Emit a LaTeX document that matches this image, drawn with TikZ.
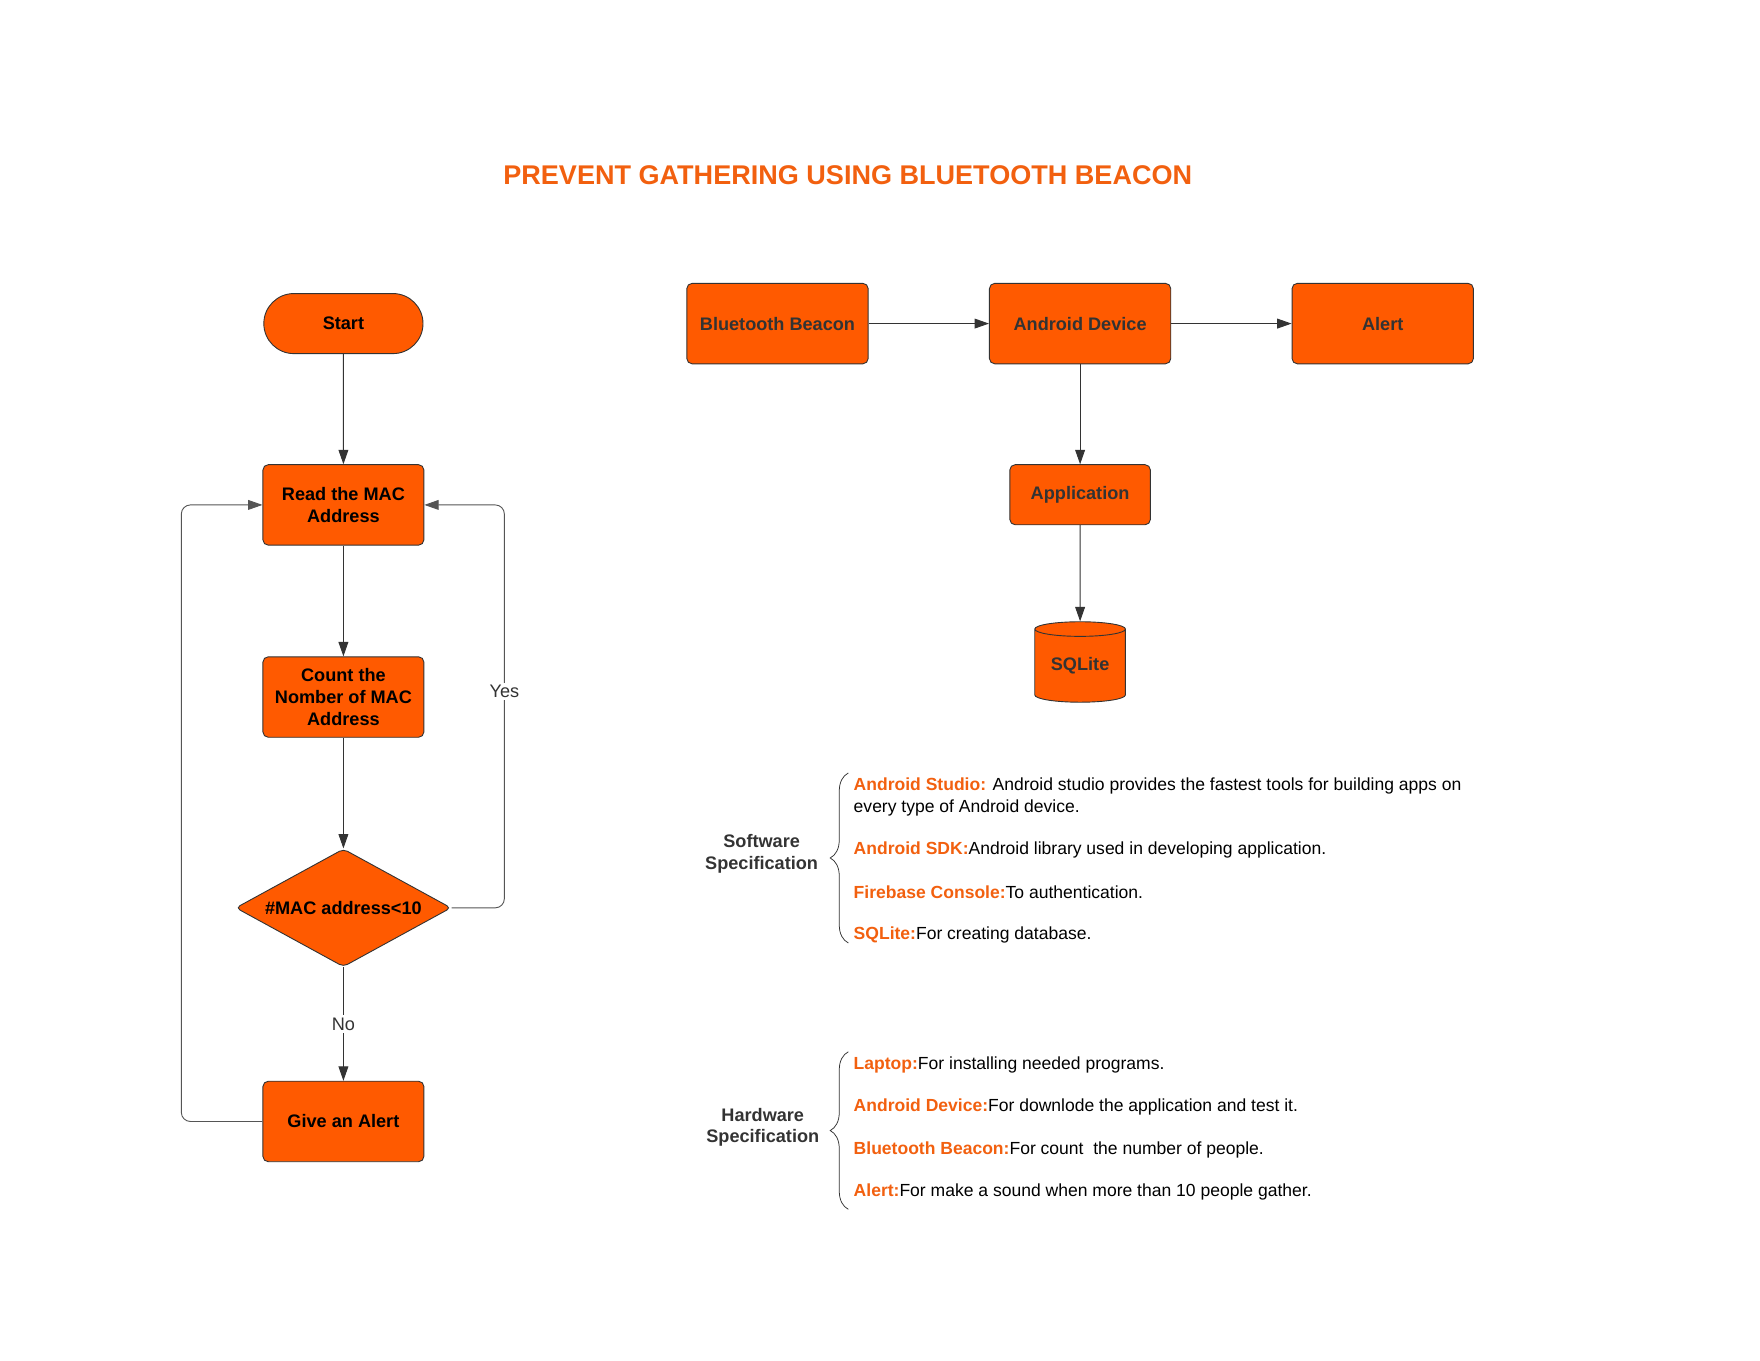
\documentclass[tikz,border=0pt]{standalone}
\usepackage{fontspec}
\setmainfont{Liberation Sans}
\usetikzlibrary{shapes.geometric}
\usetikzlibrary{shapes.misc}
\usetikzlibrary{arrows.meta}
\usetikzlibrary{decorations.pathreplacing}

\definecolor{boxorange}{HTML}{FF5A00}
\definecolor{titleorange}{HTML}{F2600F}
\definecolor{darkline}{HTML}{333333}
\definecolor{loopgray}{HTML}{555555}

\newcommand{\speckey}[1]{{\color{titleorange}\bfseries #1}}

\tikzset{
  flowbox/.style={rectangle, rounded corners=3.5pt, draw=darkline, fill=boxorange, line width=0.6pt,
    align=center, inner sep=2pt, font=\bfseries\fontsize{12}{14.25}\selectfont},
  leftbox/.style={flowbox, minimum width=106.5pt, minimum height=53.25pt, text=black},
  rightbox/.style={flowbox, minimum width=120pt, minimum height=53.25pt, text=darkline},
  flow/.style={draw=darkline, line width=0.6pt, -{Triangle[length=9.5pt,width=6.5pt]}},
  loopline/.style={flow, draw=loopgray, rounded corners=6pt},
  edgelabel/.style={fill=white, text=darkline, inner sep=1.5pt, font=\fontsize{12}{14}\selectfont},
  spectext/.style={anchor=west, inner sep=0pt, align=left, font=\fontsize{11.6}{14.25}\selectfont},
  spechead/.style={align=center, text=darkline, inner sep=0pt, font=\bfseries\fontsize{12}{14.25}\selectfont},
  bracket/.style={draw=darkline, line width=0.5pt, decorate, decoration={brace, amplitude=12pt}}
}

\begin{document}
\begin{tikzpicture}[x=0.75pt,y=0.75pt,yscale=-1,xscale=1]
\useasboundingbox (0,0) rectangle (1552.9,1200);

% title
\node[text=titleorange, font=\bfseries\fontsize{17.9}{21}\selectfont] (title) at (748,155) {PREVENT GATHERING USING BLUETOOTH BEACON};

% flowchart on the left
\node[rounded rectangle, draw=darkline, fill=boxorange, line width=0.6pt, minimum width=112pt, minimum height=39.75pt,
  font=\bfseries\fontsize{12}{14.25}\selectfont] (start) at (303,285.5) {Start};
\node[leftbox] (read) at (303,445.5) {Read the MAC\\Address};
\node[leftbox] (count) at (303,615) {Count the\\Nomber of MAC\\Address};
\node[diamond, aspect=1.83, draw=darkline, fill=boxorange, line width=0.6pt, minimum width=142.5pt, minimum height=78pt,
  inner sep=0pt, rounded corners=3pt, font=\bfseries\fontsize{12}{14.25}\selectfont] (check) at (303,801) {\#MAC address<10};
\node[leftbox] (givealert) at (303,989.5) {Give an Alert};

\coordinate (leftloop) at (160,445.5);
\coordinate (rightloop) at (445,445.5);

\draw[flow] (start) -- (read);
\draw[flow] (read) -- (count);
\draw[flow] (count) -- (check);
\draw[flow] (check) -- node[edgelabel] (no) {No} (givealert);
\draw[loopline] (givealert.west) -| (leftloop) -- (read.west);
\draw[loopline] (check.east) -| (rightloop) -- (read.east);
\node[edgelabel] (yes) at (445,610) {Yes};

% system blocks on the right
\node[rightbox] (beacon) at (686,285.5) {Bluetooth Beacon};
\node[rightbox] (android) at (953,285.5) {Android Device};
\node[rightbox] (alert) at (1220,285.5) {Alert};
\node[flowbox, minimum width=93pt, minimum height=39.75pt, text=darkline] (app) at (953,436.5) {Application};
\node[cylinder, shape border rotate=90, aspect=0.25, draw=darkline, fill=boxorange, line width=0.6pt,
  minimum width=60pt, minimum height=53.25pt, inner sep=0pt, text=darkline,
  font=\bfseries\fontsize{12}{14.25}\selectfont] (sqlite) at (953,587.5) {SQLite};

\draw[flow] (beacon) -- (android);
\draw[flow] (android) -- (alert);
\draw[flow] (android) -- (app);
\draw[flow] (app) -- (sqlite);

% software specification
\node[spechead] (software) at (672,753.5) {Software\\Specification};
\draw[bracket] (748.5,832) -- (748.5,682);
\node[spectext, anchor=north west] (studio) at (753,686) {\speckey{Android Studio:} Android studio provides the fastest tools for building apps on\\every type of Android device.};
\node[spectext] (sdk) at (753,750) {\speckey{Android SDK:}Android library used in developing application.};
\node[spectext] (firebase) at (753,787.5) {\speckey{Firebase Console:}To authentication.};
\node[spectext] (sqlitetext) at (753,824.5) {\speckey{SQLite:}For creating database.};

% hardware specification
\node[spechead] (hardware) at (673,994.5) {Hardware\\Specification};
\draw[bracket] (748.5,1067) -- (748.5,928);
\node[spectext] (laptop) at (753,939.5) {\speckey{Laptop:}For installing needed programs.};
\node[spectext] (devicetext) at (753,977) {\speckey{Android Device:}For downlode the application and test it.};
\node[spectext] (beacontext) at (753,1014.5) {\speckey{Bluetooth Beacon:}For count\ \ the number of people.};
\node[spectext] (alerttext) at (753,1051.5) {\speckey{Alert:}For make a sound when more than 10 people gather.};
\end{tikzpicture}
\end{document}
